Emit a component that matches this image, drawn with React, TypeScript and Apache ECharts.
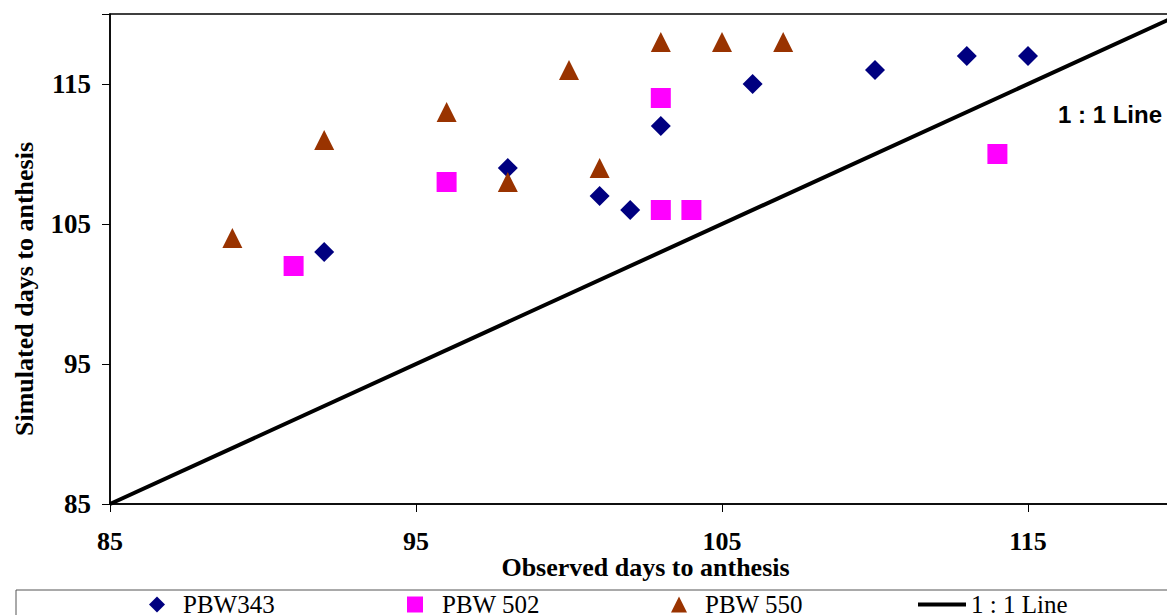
import React, { useEffect, useRef } from "react";
import * as echarts from "echarts";

const pbw343: [number, number][] = [
  [92, 103], [98, 109], [101, 107], [102, 106], [103, 112],
  [106, 115], [110, 116], [113, 117], [115, 117],
];
const pbw502: [number, number][] = [
  [91, 102], [96, 108], [103, 114], [103, 106], [104, 106], [114, 110],
];
const pbw550: [number, number][] = [
  [89, 104], [92, 111], [96, 113], [98, 108], [100, 116],
  [101, 109], [103, 118], [105, 118], [107, 118],
];
const oneToOne: [number, number][] = [[85, 85], [120, 120]];
const seriesNames = ["PBW343", "PBW 502", "PBW 550", "1 : 1 Line"];

const SERIF = "'Liberation Serif', 'Times New Roman', serif";
const SANS = "'Liberation Sans', Arial, sans-serif";

export default function App() {
  const ref = useRef<HTMLDivElement>(null);
  useEffect(() => {
    if (!ref.current) return;
    const chart = echarts.init(ref.current, undefined, { renderer: "svg" });
    const legendText = (padLeft: number) => ({
      fontFamily: SERIF, fontSize: 25, color: "#000", padding: [0, 0, 0, padLeft],
    });
    chart.setOption({
      animation: false,
      backgroundColor: "#fff",
      grid: {
        left: 110, top: 14, right: 19, bottom: 111,
        show: true, borderColor: "#000", borderWidth: 1.5,
      },
      xAxis: {
        type: "value", min: 85, max: 120, interval: 10,
        name: "Observed days to anthesis", nameLocation: "middle", nameGap: 50,
        nameMoveOverlap: false,
        nameTextStyle: { fontFamily: SERIF, fontSize: 26, fontWeight: "bold", color: "#000" },
        axisLine: { show: true, lineStyle: { color: "#000", width: 1.5 } },
        axisTick: { show: true, length: 8, lineStyle: { color: "#000" } },
        axisLabel: {
          margin: 24, fontFamily: SERIF, fontSize: 26, fontWeight: "bold", color: "#000",
          formatter: (v: number) => (v === 120 ? "" : String(v)),
        },
        splitLine: { show: false },
      },
      yAxis: {
        type: "value", min: 85, max: 120, interval: 10,
        axisLine: { show: true, lineStyle: { color: "#000", width: 1.5 } },
        axisTick: { show: true, length: 8, lineStyle: { color: "#000" } },
        axisLabel: {
          margin: 19, fontFamily: SERIF, fontSize: 27, fontWeight: "bold", color: "#000",
          formatter: (v: number) => (v === 120 ? "" : String(v)),
        },
        splitLine: { show: false },
      },
      legend: [
        { data: [{ name: seriesNames[0], icon: "diamond" }], left: 149, top: 592, padding: 0, itemWidth: 16, itemHeight: 16, textStyle: legendText(13), itemStyle: { opacity: 1 } },
        { data: [{ name: seriesNames[1], icon: "rect" }], left: 407, top: 592, padding: 0, itemWidth: 16, itemHeight: 16, textStyle: legendText(14), itemStyle: { opacity: 1 } },
        { data: [{ name: seriesNames[2], icon: "triangle" }], left: 671, top: 592, padding: 0, itemWidth: 16, itemHeight: 16, textStyle: legendText(13), itemStyle: { opacity: 1 } },
        { data: [{ name: seriesNames[3], icon: "rect" }], left: 918, top: 592, padding: 0, itemWidth: 48, itemHeight: 4, textStyle: legendText(0) },
      ],
      graphic: [
        {
          type: "rect", shape: { x: 16, y: 590, width: 1300, height: 60 },
          style: { fill: "none", stroke: "#555", lineWidth: 1 }, silent: true,
        },
        {
          type: "text", x: 24, y: 289, rotation: Math.PI / 2,
          style: {
            text: "Simulated days to anthesis", fontFamily: SERIF, fontSize: 26,
            fontWeight: "bold", fill: "#000", align: "center", verticalAlign: "middle",
          },
        },
        {
          type: "text", x: 1058, y: 114,
          style: {
            text: "1 : 1 Line", fontFamily: SANS, fontSize: 24, fontWeight: "bold",
            fill: "#000", align: "left", verticalAlign: "middle",
          },
        },
      ],
      series: [
        {
          name: seriesNames[3], type: "line", data: oneToOne, symbol: "none",
          lineStyle: { color: "#000", width: 4 }, itemStyle: { color: "#000" }, z: 1,
        },
        {
          name: seriesNames[0], type: "scatter", data: pbw343, symbol: "diamond",
          symbolSize: 20, itemStyle: { color: "#000080", opacity: 1 }, z: 3,
        },
        {
          name: seriesNames[1], type: "scatter", data: pbw502, symbol: "rect",
          symbolSize: 20, itemStyle: { color: "#FF00FF", opacity: 1 }, z: 3,
        },
        {
          name: seriesNames[2], type: "scatter", data: pbw550, symbol: "triangle",
          symbolSize: 20, itemStyle: { color: "#993300", opacity: 1 }, z: 3,
        },
      ],
    });
    return () => chart.dispose();
  }, []);
  return (
    <div style={{ position: "fixed", left: 0, top: 0, width: 1167, height: 615, overflow: "hidden", background: "#fff" }}>
      <div ref={ref} style={{ width: 1200, height: 615 }} />
    </div>
  );
}
